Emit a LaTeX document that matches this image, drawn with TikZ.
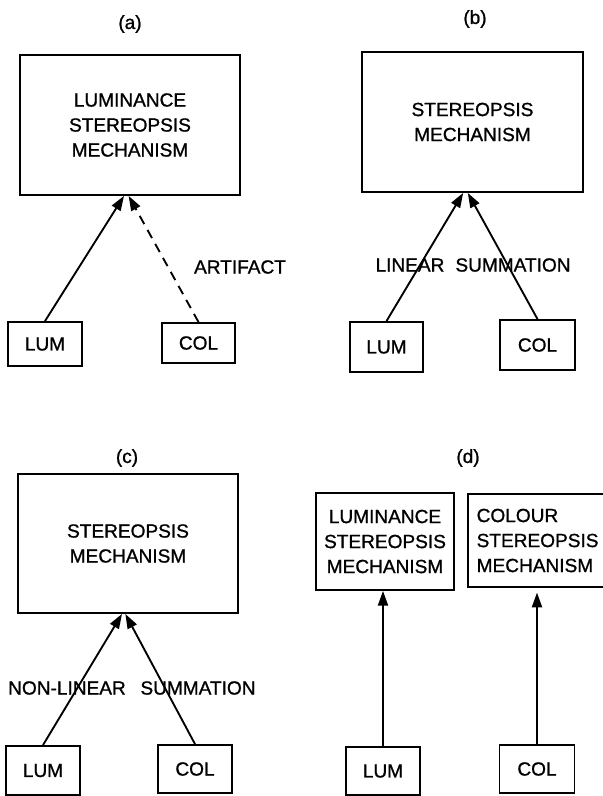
\documentclass[tikz,border=0pt]{standalone}
\usepackage{fontspec}
\setmainfont{Liberation Sans}[FakeBold=1]
\usetikzlibrary{arrows.meta}

\begin{document}
\begin{tikzpicture}[
    x=0.75pt, y=-0.75pt,
    every node/.style={font=\fontsize{14.3}{18.75}\selectfont},
    mech/.style={draw, line width=1.4pt, align=center, inner sep=0pt},
    src/.style={draw, line width=1.4pt, inner sep=0pt, minimum width=55pt, minimum height=34pt},
    arr/.style={-{Triangle[length=11pt, width=7.5pt]}, line width=1.4pt}
]
\useasboundingbox (0,0) rectangle (603,796);

% (a)
\node (tagA) at (130,24) {(a)};
\node[mech, minimum width=165pt, minimum height=105pt] (mechA) at (130,125) {LUMINANCE\\STEREOPSIS\\MECHANISM};
\node[src, minimum height=33pt] (lumA) at (45,344) {LUM};
\node[src, minimum height=30pt] (colA) at (198.5,343) {COL};
\node (artifact) at (240,267) {ARTIFACT};
\draw[arr] (lumA.north) -- ([xshift=-4.5pt]mechA.south);
\draw[arr, dash pattern=on 7pt off 5pt] (colA.north) -- ([xshift=-1pt]mechA.south);

% (b)
\node (tagB) at (475,19) {(b)};
\node[mech, minimum width=165.75pt, minimum height=105pt] (mechB) at (472.5,122) {STEREOPSIS\\MECHANISM};
\node[src, minimum height=37.5pt] (lumB) at (386.5,347) {LUM};
\node[src, minimum width=56.25pt, minimum height=37.5pt] (colB) at (537.5,345) {COL};
\node (linear) at (410,265) {LINEAR};
\node (sumB) at (513,265) {SUMMATION};
\draw[arr] (lumB.north) -- ([xshift=-7pt]mechB.south);
\draw[arr] (colB.north) -- ([xshift=-3.5pt]mechB.south);

% (c)
\node (tagC) at (127,458) {(c)};
\node[mech, minimum width=165pt, minimum height=104.25pt] (mechC) at (128,543.5) {STEREOPSIS\\MECHANISM};
\node[src, minimum height=36.75pt] (lumC) at (43,770.5) {LUM};
\node[src, minimum height=36pt] (colC) at (195,769) {COL};
\node (nonlinear) at (67,688) {NON-LINEAR};
\node (sumC) at (198,688) {SUMMATION};
\draw[arr] (lumC.north) -- ([xshift=-4.5pt]mechC.south);
\draw[arr] (colC.north) -- ([xshift=-2pt]mechC.south);

% (d)
\node (tagD) at (468,458) {(d)};
\node[mech, minimum width=103.5pt, minimum height=72.75pt] (mechLD) at (385,541.5) {LUMINANCE\\STEREOPSIS\\MECHANISM};
\node[mech, align=left, text width=95pt, inner xsep=6.75pt, minimum height=69.75pt] (mechCD) at (540,540.5) {COLOUR\\STEREOPSIS\\MECHANISM};
\node[src, minimum height=36pt] (lumD) at (383,771) {LUM};
\node[src, minimum width=56.25pt, minimum height=36pt] (colD) at (537,769) {COL};
\draw[arr] (lumD.north) -- (lumD.north |- mechLD.south);
\draw[arr, shorten >=3.5pt] (colD.north) -- (colD.north |- mechCD.south);
\end{tikzpicture}
\end{document}
